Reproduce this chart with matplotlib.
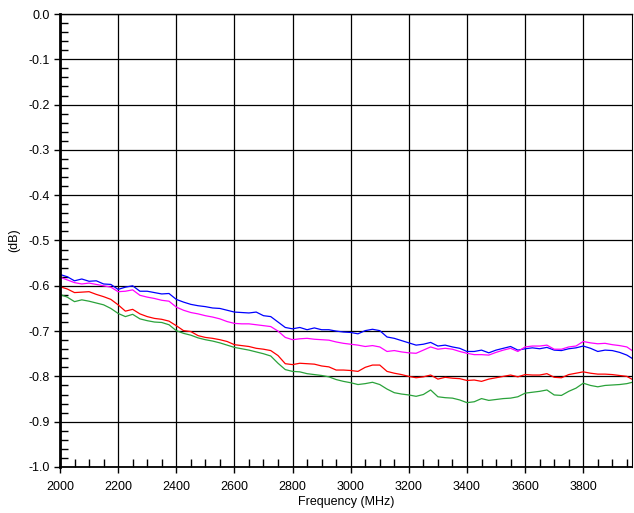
import matplotlib
matplotlib.use("Agg")
import matplotlib.pyplot as plt
from matplotlib.ticker import MultipleLocator
import numpy as np

plt.rcParams['font.family'] = ['Liberation Sans', 'DejaVu Sans']

# frequency points, every 25 MHz
freq = np.arange(2000, 3976, 25)

blue = [-0.575, -0.580, -0.589, -0.585, -0.590, -0.589, -0.596, -0.597, -0.608, -0.603,
        -0.600, -0.612, -0.612, -0.615, -0.618, -0.617, -0.630, -0.636, -0.641, -0.644,
        -0.646, -0.649, -0.650, -0.654, -0.658, -0.659, -0.660, -0.658, -0.666, -0.668,
        -0.680, -0.692, -0.695, -0.692, -0.697, -0.693, -0.697, -0.697, -0.700, -0.702,
        -0.703, -0.706, -0.699, -0.696, -0.699, -0.713, -0.716, -0.721, -0.726, -0.731,
        -0.729, -0.725, -0.733, -0.731, -0.735, -0.738, -0.745, -0.745, -0.742, -0.748,
        -0.742, -0.738, -0.734, -0.742, -0.739, -0.737, -0.739, -0.736, -0.742, -0.743,
        -0.739, -0.737, -0.733, -0.738, -0.745, -0.742, -0.743, -0.747, -0.753, -0.763]

magenta = [-0.581, -0.587, -0.593, -0.596, -0.594, -0.597, -0.600, -0.603, -0.613, -0.612,
           -0.609, -0.621, -0.625, -0.628, -0.632, -0.634, -0.647, -0.654, -0.659, -0.662,
           -0.666, -0.669, -0.673, -0.679, -0.683, -0.684, -0.684, -0.686, -0.688, -0.690,
           -0.700, -0.714, -0.719, -0.717, -0.716, -0.718, -0.719, -0.720, -0.724, -0.727,
           -0.729, -0.731, -0.734, -0.732, -0.735, -0.745, -0.743, -0.746, -0.748, -0.749,
           -0.742, -0.735, -0.740, -0.738, -0.740, -0.745, -0.749, -0.752, -0.752, -0.753,
           -0.747, -0.742, -0.738, -0.745, -0.735, -0.733, -0.733, -0.731, -0.740, -0.740,
           -0.735, -0.733, -0.723, -0.726, -0.728, -0.727, -0.730, -0.732, -0.735, -0.746]

red = [-0.602, -0.607, -0.615, -0.614, -0.613, -0.619, -0.624, -0.630, -0.642, -0.656,
       -0.652, -0.662, -0.668, -0.672, -0.674, -0.678, -0.688, -0.699, -0.701, -0.710,
       -0.714, -0.716, -0.719, -0.723, -0.730, -0.732, -0.734, -0.738, -0.740, -0.743,
       -0.754, -0.772, -0.774, -0.771, -0.772, -0.773, -0.777, -0.779, -0.786, -0.786,
       -0.787, -0.789, -0.780, -0.775, -0.775, -0.789, -0.793, -0.796, -0.800, -0.803,
       -0.801, -0.797, -0.806, -0.802, -0.804, -0.805, -0.809, -0.808, -0.811, -0.806,
       -0.803, -0.800, -0.797, -0.801, -0.796, -0.797, -0.797, -0.794, -0.802, -0.803,
       -0.796, -0.793, -0.790, -0.793, -0.795, -0.795, -0.796, -0.798, -0.800, -0.809]

green = [-0.619, -0.625, -0.635, -0.631, -0.634, -0.638, -0.642, -0.650, -0.661, -0.668,
         -0.663, -0.673, -0.677, -0.680, -0.681, -0.686, -0.699, -0.705, -0.709, -0.715,
         -0.719, -0.722, -0.726, -0.731, -0.736, -0.739, -0.742, -0.746, -0.750, -0.755,
         -0.771, -0.785, -0.789, -0.790, -0.794, -0.796, -0.798, -0.801, -0.807, -0.811,
         -0.814, -0.818, -0.816, -0.813, -0.818, -0.828, -0.836, -0.839, -0.841, -0.844,
         -0.840, -0.830, -0.845, -0.847, -0.848, -0.852, -0.858, -0.856, -0.849, -0.853,
         -0.851, -0.849, -0.848, -0.845, -0.837, -0.835, -0.833, -0.830, -0.841, -0.842,
         -0.833, -0.826, -0.815, -0.820, -0.823, -0.820, -0.819, -0.818, -0.816, -0.812]

fig = plt.figure(figsize=(6.34, 5.13), dpi=100)
ax = fig.add_axes([0.0946, 0.0897, 0.9024, 0.883])

ax.plot(freq, blue, color='#0000ff', lw=0.9)
ax.plot(freq, magenta, color='#ff00ff', lw=0.9)
ax.plot(freq, red, color='#ff0000', lw=0.9)
ax.plot(freq, green, color='#2aa23a', lw=0.9)

ax.set_xlim(2000, 3968)
ax.set_ylim(-1.0, 0.0)
ax.xaxis.set_major_locator(MultipleLocator(200))
ax.xaxis.set_minor_locator(MultipleLocator(50))
ax.yaxis.set_major_locator(MultipleLocator(0.1))
ax.yaxis.set_minor_locator(MultipleLocator(0.02))
ax.yaxis.set_major_formatter(matplotlib.ticker.FormatStrFormatter('%.1f'))

ax.grid(True, which='major', color='black', lw=0.9)
ax.tick_params(which='major', direction='out', length=4, width=1, labelsize=9)
ax.tick_params(which='minor', direction='in', length=6, width=1)
ax.tick_params(axis='x', which='major', pad=6)

ax.spines['left'].set_linewidth(2)
ax.spines['bottom'].set_linewidth(1.3)
ax.spines['top'].set_linewidth(1)
ax.spines['right'].set_linewidth(0.8)

ax.set_xlabel('Frequency (MHz)', fontsize=9, labelpad=2)
ax.set_ylabel('(dB)', fontsize=9, labelpad=6)

fig.savefig('out.png', dpi=100)
